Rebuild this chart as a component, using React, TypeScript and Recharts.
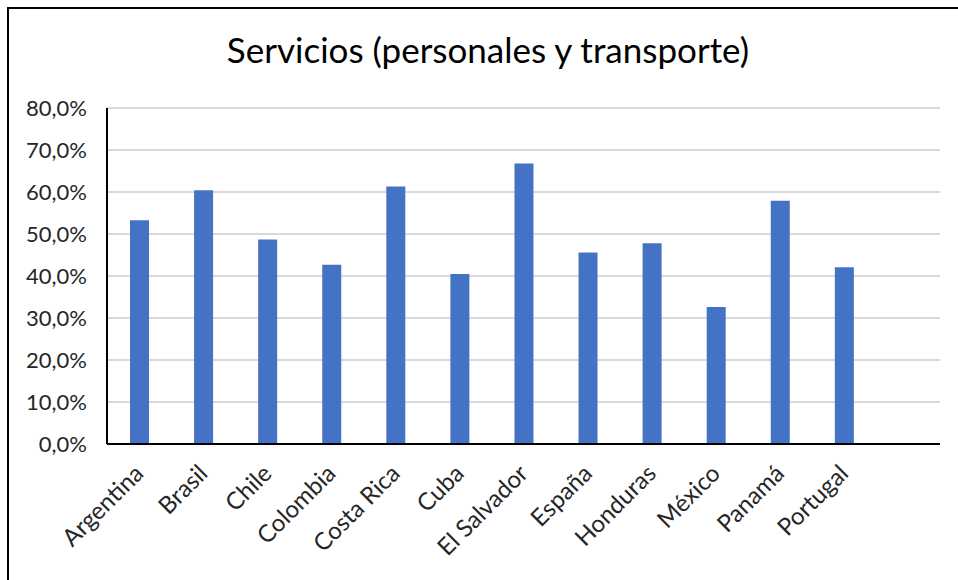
import React from "react";
import { BarChart, Bar, XAxis, YAxis, CartesianGrid } from "recharts";

const categories = [
  "Argentina",
  "Brasil",
  "Chile",
  "Colombia",
  "Costa Rica",
  "Cuba",
  "El Salvador",
  "España",
  "Honduras",
  "México",
  "Panamá",
  "Portugal",
  "",
];
const values: (number | null)[] = [
  53.3, 60.4, 48.7, 42.7, 61.3, 40.5, 66.8, 45.6, 47.8, 32.6, 57.9, 42.1, null,
];
const yTicks = [0, 10, 20, 30, 40, 50, 60, 70, 80];

const data = categories.map((name, i) => ({ name, value: values[i] }));

const FONT = "Lato, 'Noto Sans', sans-serif";

const fmt = (v: number) => `${v.toFixed(1).replace(".", ",")}%`;

const XTick = (props: any) => {
  const { x, y, payload } = props;
  const ax = x + 6;
  const ay = y + 23;
  return (
    <text
      x={ax}
      y={ay}
      transform={`rotate(-45, ${ax}, ${ay})`}
      textAnchor="end"
      fontSize={24}
      fontFamily={FONT}
      fill="#262626"
    >
      {payload.value}
    </text>
  );
};

export default function App() {
  return (
    <div
      style={{
        position: "absolute",
        left: 7,
        top: 7,
        width: 960,
        height: 580,
        borderLeft: "2px solid #000",
        borderTop: "2px solid #000",
        background: "#fff",
        boxSizing: "border-box",
      }}
    >
      <div
        style={{
          position: "absolute",
          left: -9,
          top: 20,
          width: 976,
          textAlign: "center",
          fontFamily: FONT,
          fontSize: 35,
          color: "#000",
          lineHeight: "40px",
          whiteSpace: "nowrap",
        }}
      >
        Servicios (personales y transporte)
      </div>
      <div style={{ position: "absolute", left: -9, top: -9 }}>
        <BarChart
          width={960}
          height={580}
          data={data}
          margin={{ top: 108, right: 20, bottom: 0, left: 0 }}
          barSize={19}
        >
          <CartesianGrid
            horizontal
            vertical={false}
            stroke="#d9d9d9"
            strokeWidth={2}
          />
          <XAxis
            dataKey="name"
            interval={0}
            tickLine={false}
            axisLine={{ stroke: "#000", strokeWidth: 2 }}
            tick={<XTick />}
            height={136}
          />
          <YAxis
            width={107}
            domain={[0, 80]}
            ticks={yTicks}
            tickFormatter={fmt}
            tickLine={false}
            tickMargin={14}
            axisLine={{ stroke: "#000", strokeWidth: 2 }}
            tick={{ fontSize: 22, fontFamily: FONT, fill: "#262626" }}
            interval={0}
          />
          <Bar dataKey="value" fill="#4472C4" isAnimationActive={false} />
        </BarChart>
      </div>
    </div>
  );
}
